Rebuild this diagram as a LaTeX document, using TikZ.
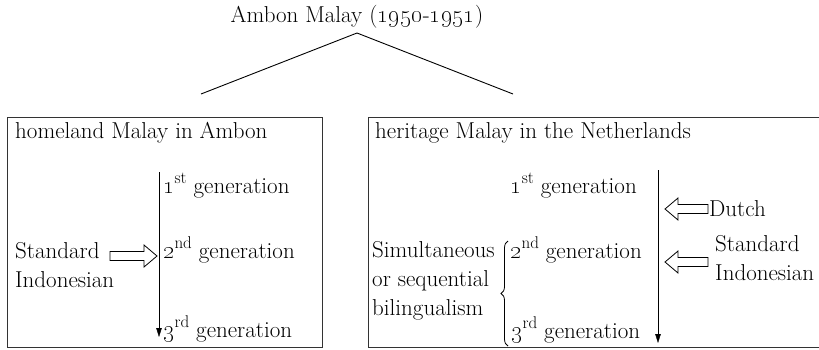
\documentclass[tikz,border=0pt]{standalone}
\usetikzlibrary{arrows.meta}
\usetikzlibrary{decorations.pathreplacing}
\tikzset{>={Triangle[length=9pt,width=5.5pt]}}
\tikzset{txt/.style={font=\fontsize{23}{29}\selectfont,inner sep=0pt,anchor=base west,align=left}}
\tikzset{box/.style={line width=1pt,black!80}}
\tikzset{hollow/.pic={
  \draw[line width=0.8pt,fill=white]
    (0,0) -- (-13,11) -- (-13,4.5) -- (-#1,4.5) -- (-#1,-4.5) -- (-13,-4.5) -- (-13,-11) -- cycle;
}}
\newcommand\ord[2]{\oldstylenums{#1}\raisebox{0.4em}{\fontsize{17}{17}\selectfont #2}}

\begin{document}
\begin{tikzpicture}[x=1pt,y=-1pt]
  \useasboundingbox (0,0) rectangle (819,349);
  \def\Ytop{117}
  \def\Ybot{347}

  % TREE
  \node[txt,anchor=base] (root) at (357,22) {Ambon Malay (\oldstylenums{1950}-\oldstylenums{1951})};
  \coordinate (apex) at (357,33);
  \coordinate (L) at (201,94);
  \coordinate (R) at (513,94);
  \draw[line width=0.9pt] (L) -- (apex) -- (R);

  % BOXES
  \draw[box] (7,\Ytop) rectangle (322,\Ybot);
  \draw[box] (830,\Ytop) -- (368,\Ytop) -- (368,\Ybot) -- (830,\Ybot);

  % HOMELAND
  \node[txt] (home) at (15,138) {homeland Malay in Ambon};
  \coordinate (l1) at (159,172);
  \coordinate (l3) at (159,337);
  \draw[->] (l1) -- (l3);
  \node[txt] (lg1) at (163,193) {\ord{1}{st} generation};
  \node[txt] (lg2) at (163,258) {\ord{2}{nd} generation};
  \node[txt] (lg3) at (163,337) {\ord{3}{rd} generation};
  \node[txt] (lstd) at (15,287) {Standard\\Indonesian}; % base = last line
  \pic at (157,256) {hollow=47};

  % HERITAGE
  \node[txt] (herit) at (375,138) {heritage Malay in the Netherlands};
  \coordinate (r1) at (658,170);
  \coordinate (r3) at (658,343);
  \draw[->] (r1) -- (r3);
  \node[txt,anchor=base east] (rg1) at (637,193) {\ord{1}{st} generation};
  \node[txt] (rg2) at (510,258) {\ord{2}{nd} generation};
  \node[txt] (rg3) at (511,338) {\ord{3}{rd} generation};
  \node[txt] (bil) at (372,315) {Simultaneous\\or sequential\\bilingualism};
  \draw[line width=0.8pt,decorate,decoration={brace,amplitude=7pt}] (508,346) -- (508,241);
  \pic[xscale=-1] at (665,209) {hollow=43};
  \pic[xscale=-1] at (665,262) {hollow=43};
  \node[txt] (dutch) at (709,216) {Dutch};
  \node[txt] (rstd) at (715,280) {Standard\\Indonesian};
\end{tikzpicture}
\end{document}
